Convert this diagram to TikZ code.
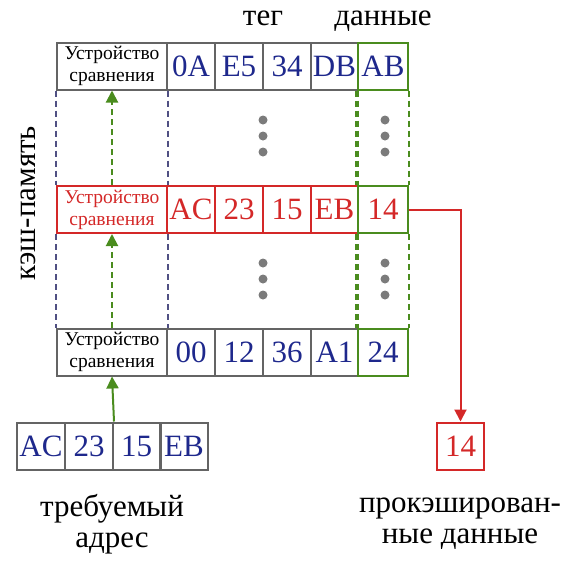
\documentclass[tikz,border=0pt]{standalone}
\usepackage{fontspec}
\setmainfont{Liberation Serif}
\usetikzlibrary{arrows.meta}
\definecolor{cblue}{RGB}{30,40,140}
\definecolor{cred}{RGB}{212,40,40}
\definecolor{cgreen}{RGB}{74,140,30}
\definecolor{cgray}{RGB}{100,100,100}
\tikzset{
  cell/.style={draw=cgray, line width=2pt, minimum height=47pt, inner sep=0pt,
    font=\fontsize{31}{33}\selectfont, text=cblue},
  cmpbox/.style={cell, minimum width=110pt, align=center,
    font=\fontsize{19.5}{22}\selectfont, text=black},
  hit/.style={draw=cred, text=cred},
  datacell/.style={cell, draw=cgreen, minimum width=50pt},
  lbl/.style={font=\fontsize{31}{31}\selectfont, align=center},
  dsh/.style={dash pattern=on 6pt off 4pt},
  arr/.style={-{Triangle[width=12pt,length=12pt]}},
  dot/.style={fill=cgray!85, draw=none}
}
\begin{document}
\begin{tikzpicture}[x=1pt,y=-1pt]
\useasboundingbox (0,0) rectangle (580,560);
% rows of the cache
\node[cmpbox] (cmpA) at (112,66) {Устройство\\сравнения};
\node[cmpbox,hit] (cmpB) at (112,209.5) {Устройство\\сравнения};
\node[cmpbox] (cmpC) at (112,352) {Устройство\\сравнения};
\foreach \x/\i/\w/\ta/\tb/\tc in {191/1/48/0A/AC/00, 239/2/48/E5/23/12, 287/3/48/34/15/36, 334.5/4/47/DB/EB/A1} {
 \node[cell, minimum width=\w pt] (tagA\i) at (\x,66) {\ta};
 \node[cell, hit, minimum width=\w pt] (tagB\i) at (\x,209.5) {\tb};
 \node[cell, minimum width=\w pt] (tagC\i) at (\x,352) {\tc};
}
\node[datacell] (datA) at (383,66) {AB};
\node[datacell, text=cred] (datB) at (383,209.5) {14};
\node[datacell] (datC) at (383,352) {24};
% dashed sides
\foreach \r/\s in {A/B, B/C} {
 \draw[cgray!80!blue, line width=1.8pt, dsh] (cmp\r.south west) -- (cmp\s.north west);
 \draw[cgray!80!blue, line width=1.8pt, dsh] (cmp\r.south east) -- (cmp\s.north east);
 \draw[cgreen, line width=3.5pt, dsh] (dat\r.south west) -- (dat\s.north west);
 \draw[cgreen, line width=1.8pt, dsh] (dat\r.south east) -- (dat\s.north east);
 \draw[cgreen, line width=2pt, dsh, arr] (cmp\s.north) -- (cmp\r.south);
}
% dots
\foreach \y in {120,136,152,263,279,295} {
 \fill[dot] (263,\y) circle (4.5pt);
 \fill[dot] (385,\y) circle (4.5pt);
}
% requested address
\foreach \x/\i/\t in {41/1/AC, 89/2/23, 136.5/3/15, 184/4/EB}
 \node[cell, minimum width=48pt] (adr\i) at (\x,446) {\t};
\draw[cgreen, line width=2pt, arr] (adr2.north east) -- (cmpC.south);
% output
\node[cell, hit, minimum width=47pt] (out) at (460.5,446) {14};
\draw[cred, line width=2pt, arr] (datB.east) -| (out.north);
% labels
\node[lbl, anchor=base] (lblTag) at (263,25) {тег};
\node[lbl, anchor=base] (lblData) at (383,25) {данные};
\node[lbl, rotate=90] (lblCache) at (28,203) {кэш-память};
\node[lbl] (lblAddr) at (112,524) {требуемый\\адрес};
\node[lbl] (lblOut) at (460,524) {прокэширован-\\ные данные};
\end{tikzpicture}
\end{document}
